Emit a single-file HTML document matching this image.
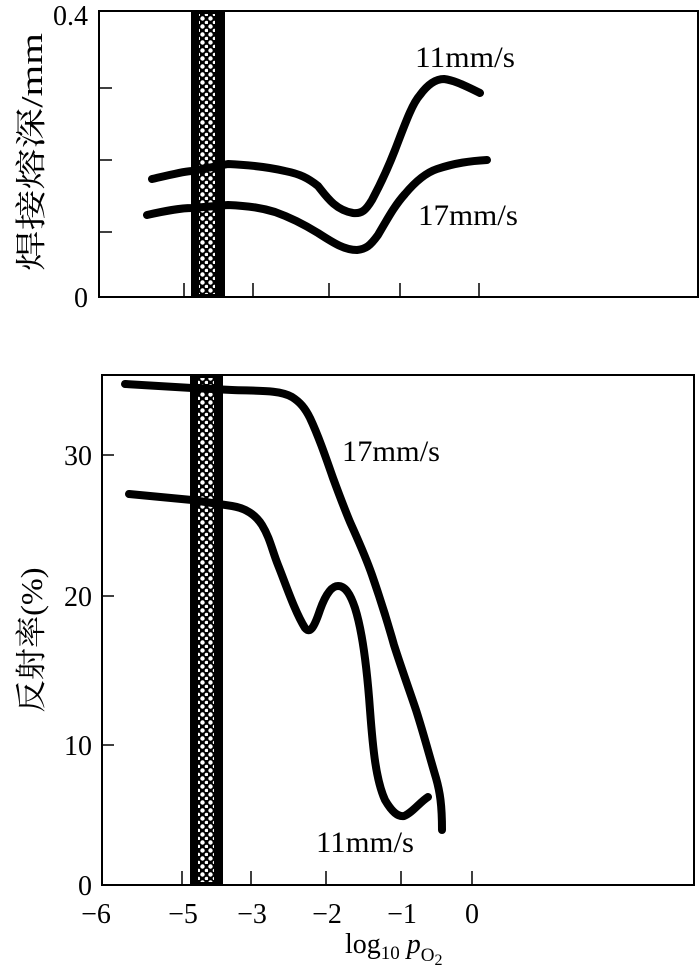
<!DOCTYPE html>
<html><head><meta charset="utf-8"><style>
html,body{margin:0;padding:0;background:#fff;}
svg{display:block;}
text{font-family:"Liberation Serif","Noto Serif CJK SC",serif;fill:#000;}
</style></head><body>
<svg width="700" height="977" viewBox="0 0 700 977" xmlns="http://www.w3.org/2000/svg">
<defs>
<pattern id="dots" width="8" height="8" patternUnits="userSpaceOnUse">
<rect width="8" height="8" fill="#000"/>
<circle cx="2.5" cy="2.5" r="2.2" fill="#fff"/>
<circle cx="6.5" cy="6.5" r="1.8" fill="#fff"/>
</pattern>
</defs>
<!-- TOP -->
<rect x="99" y="11" width="599" height="286" fill="none" stroke="#000" stroke-width="2"/>
<rect x="191" y="11" width="34" height="286" fill="#000"/>
<rect x="199" y="14" width="16" height="280" fill="url(#dots)"/>
<g stroke="#000" stroke-width="1.5">
<line x1="184" y1="297" x2="184" y2="283"/><line x1="253" y1="297" x2="253" y2="283"/>
<line x1="329" y1="297" x2="329" y2="283"/><line x1="400" y1="297" x2="400" y2="283"/>
<line x1="479" y1="297" x2="479" y2="283"/>
<line x1="99" y1="88" x2="112" y2="88"/><line x1="99" y1="160" x2="112" y2="160"/><line x1="99" y1="232" x2="112" y2="232"/>
</g>
<g fill="none" stroke="#000" stroke-width="8" stroke-linecap="round" stroke-linejoin="round">
<path d="M152,179 C170,175 185,171 192,171 L228,164 C250,165 268,167 285,171 C300,174 308,178 318,186 C326,196 335,210 353,213 C362,214 366,210 372,200 C380,185 388,168 395,150 C405,124 412,104 420,95 C428,84 436,79 444,79 C452,80 460,83 480,93"/>
<path d="M147,215 C165,211 180,208 192,208 L228,205 C250,206 262,208 275,212 C292,218 305,225 318,233 C335,244 345,250 357,250 C366,249 370,246 378,235 C388,218 395,205 405,194 C415,182 425,173 437,169 C455,163 470,161 487,160"/>
</g>
<text x="415" y="67" font-size="30" textLength="100" lengthAdjust="spacingAndGlyphs">11mm/s</text>
<text x="418" y="225" font-size="30" textLength="100" lengthAdjust="spacingAndGlyphs">17mm/s</text>
<text x="88" y="25" font-size="28" text-anchor="end">0.4</text>
<text x="88" y="307" font-size="28" text-anchor="end">0</text>
<text transform="translate(42,152) rotate(-90)" font-size="31" text-anchor="middle" textLength="238" lengthAdjust="spacingAndGlyphs">焊接熔深/mm</text>
<!-- BOTTOM -->
<rect x="102" y="375" width="592" height="510" fill="none" stroke="#000" stroke-width="2"/>
<rect x="190" y="375" width="33" height="510" fill="#000"/>
<rect x="198" y="378" width="16" height="504" fill="url(#dots)"/>
<g stroke="#000" stroke-width="1.5">
<line x1="182" y1="885" x2="182" y2="871"/><line x1="251" y1="885" x2="251" y2="871"/>
<line x1="326" y1="885" x2="326" y2="871"/><line x1="401" y1="885" x2="401" y2="871"/>
<line x1="472" y1="885" x2="472" y2="871"/>
<line x1="102" y1="455" x2="114" y2="455"/><line x1="102" y1="596" x2="114" y2="596"/><line x1="102" y1="745" x2="114" y2="745"/>
</g>
<g fill="none" stroke="#000" stroke-width="8" stroke-linecap="round" stroke-linejoin="round">
<path d="M125,384 L192,388 L232,390 C260,391 280,390 292,397 C300,402 305,408 310,418 C318,435 325,455 333,478 C340,497 345,510 350,522 C358,540 365,555 372,575 C380,598 387,620 394,645 C402,670 410,692 416,710 C424,735 430,758 436,778 C440,792 442,805 442,830"/>
<path d="M129,494 L192,500 L232,506 C245,508 255,514 262,525 C270,538 272,550 278,565 C286,585 295,612 305,628 C310,634 314,628 320,610 C326,593 332,586 338,586 C345,586 350,593 355,608 C362,630 367,668 370,710 C373,750 376,780 385,800 C392,812 398,817 404,816 C412,813 420,802 428,797"/>
</g>
<text x="342" y="461" font-size="30" textLength="98" lengthAdjust="spacingAndGlyphs">17mm/s</text>
<text x="316" y="852" font-size="30" textLength="98" lengthAdjust="spacingAndGlyphs">11mm/s</text>
<text x="92" y="465" font-size="28" text-anchor="end">30</text>
<text x="92" y="606" font-size="28" text-anchor="end">20</text>
<text x="92" y="755" font-size="28" text-anchor="end">10</text>
<text x="92" y="895" font-size="28" text-anchor="end">0</text>
<g font-size="28" text-anchor="middle">
<text x="96" y="923">−6</text><text x="183" y="923">−5</text><text x="252" y="923">−3</text>
<text x="327" y="923">−2</text><text x="402" y="923">−1</text><text x="472" y="923">0</text>
</g>
<text x="345" y="953" font-size="28">log<tspan font-size="19" dy="6">10</tspan><tspan dy="-6" font-style="italic"> p</tspan><tspan font-size="19" dy="8">O</tspan><tspan font-size="16" dy="4">2</tspan></text>
<text transform="translate(42,640) rotate(-90)" font-size="31" text-anchor="middle" textLength="145" lengthAdjust="spacingAndGlyphs">反射率(%)</text>
</svg>
</body></html>
